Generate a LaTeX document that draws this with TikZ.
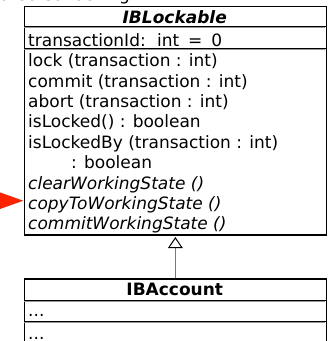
\documentclass[tikz,border=0pt]{standalone}
\usepackage{fontspec}
\setmainfont{DejaVu Sans}
\usetikzlibrary{arrows.meta}
\definecolor{pointerred}{RGB}{255,34,0}
\definecolor{sepgrey}{RGB}{150,150,150}
\definecolor{linkgrey}{RGB}{120,120,120}
\begin{document}
\begin{tikzpicture}[x=1pt,y=-1pt,
  classbox/.style={draw=black,line width=1.2pt,rectangle,inner sep=0pt,anchor=north west,minimum width=302.5pt},
  txt/.style={inner sep=0pt,font=\fontsize{17}{20.4}\selectfont},
  member/.style={txt,anchor=base west},
  opmember/.style={member,font=\fontsize{17}{20.4}\selectfont\itshape},
  classname/.style={txt,anchor=base,font=\fontsize{17}{20.4}\selectfont\bfseries},
  sepline/.style={draw=black,line width=1pt},
  sepshade/.style={draw=sepgrey,line width=1pt},
  realize/.style={draw=linkgrey,line width=1.3pt,shorten >=1.5pt,
    -{Triangle[length=11pt,width=14.6pt,color=black,fill=white,line width=1pt]}}]
\useasboundingbox (0,0) rectangle (329,341);
\clip (0,0) rectangle (329,341);

% heading above the diagram, mostly outside the frame
\node[txt,anchor=base east] (heading) at (130,0.8) {Protected locking};

% interface IBLockable
\node[classbox,minimum height=228.6pt] (lockable) at (23.5,5.7) {};
\node[classname,font=\fontsize{17}{20.4}\selectfont\bfseries\itshape] (lockname) at (174.75,23.3) {IBLockable};
\foreach \y in {26.7,48.7}{
  \draw[sepline] (23.5,\y) -- (326,\y);
  \draw[sepshade] (24.1,\y+1.1) -- (325.4,\y+1.1);
}
\node[member] (attr) at (28,46.5) {transactionId:\hspace{0.25em} int \hspace{0.2em}=\hspace{0.2em} 0};
\node[member] (m1) at (28,66.7) {lock (transaction : int)};
\node[member] (m2) at (28,87.1) {commit (transaction : int)};
\node[member] (m3) at (28,107.5) {abort (transaction : int)};
\node[member] (m4) at (28,127.9) {isLocked() : boolean};
\node[member] (m5) at (28,148.3) {isLockedBy (transaction : int)};
\node[member] (m5b) at (71,168.7) {: boolean};
\node[opmember] (m6) at (28,189.1) {clearWorkingState ()};
\node[opmember] (m7) at (28,209.5) {copyToWorkingState ()};
\node[opmember] (m8) at (28,229.9) {commitWorkingState ()};

% class IBAccount
\node[classbox,minimum height=80pt] (account) at (23.5,278.3) {};
\node[classname] (accname) at (174.75,295) {IBAccount};
\foreach \y in {300,321.7}{
  \draw[sepline] (23.5,\y) -- (326,\y);
  \draw[sepshade] (24.1,\y+1.1) -- (325.4,\y+1.1);
}
\node[member] (accattr) at (28,316.5) {...};
\node[member] (accops) at (28,339.5) {...};

% realization link
\draw[realize] (account.north) -- (lockable.south);

% pointer marker
\fill[pointerred] (-10,188.8) -- (23.3,200.7) -- (-10,212.6) -- cycle;
\end{tikzpicture}
\end{document}
